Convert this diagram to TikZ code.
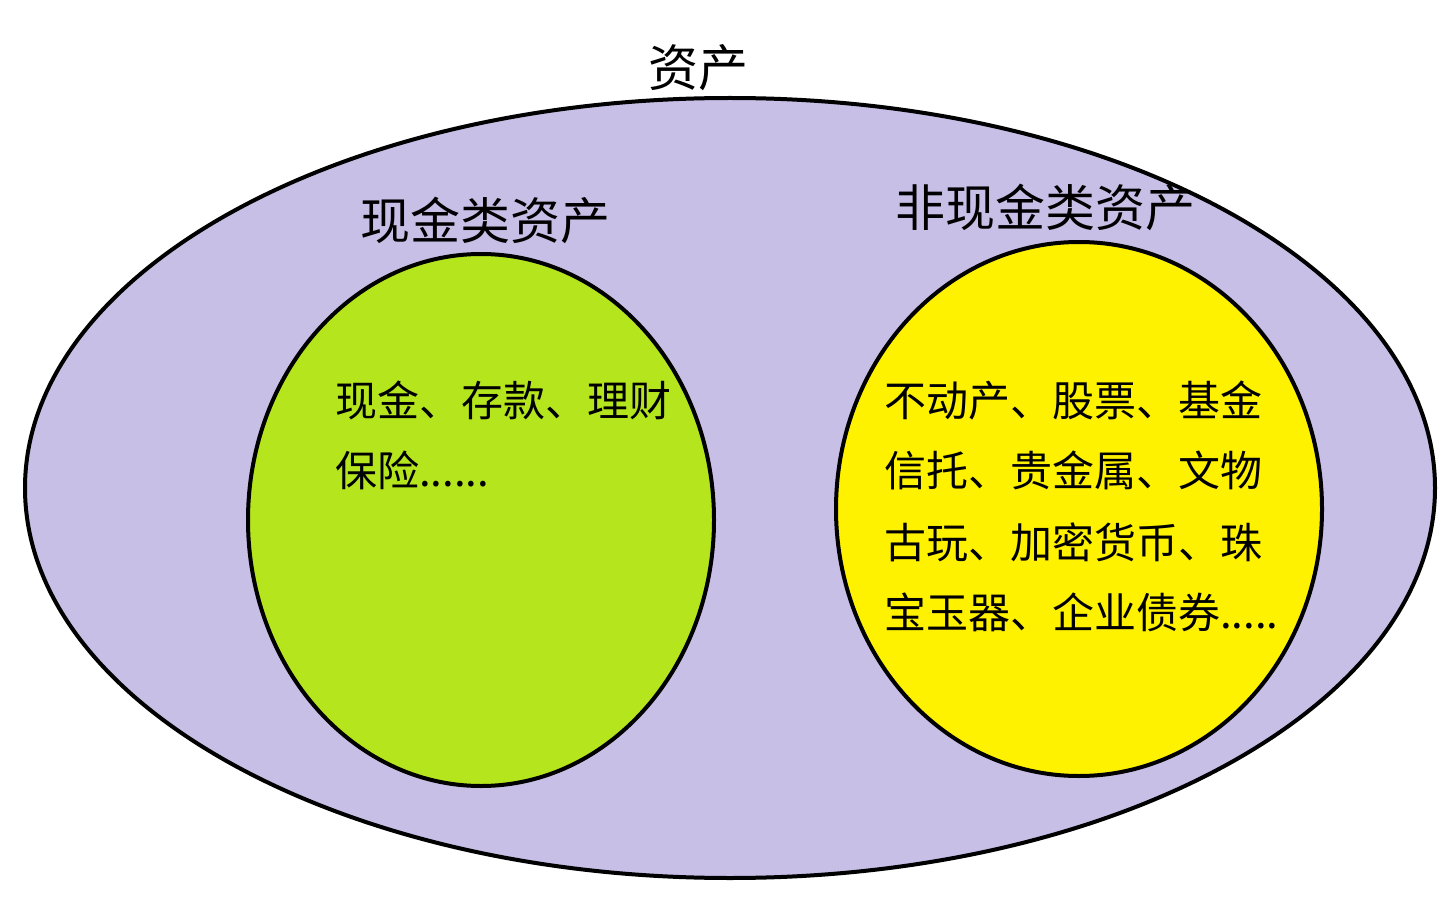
\documentclass[tikz,border=0pt]{standalone}
\usepackage{fontspec}
\setmainfont{Noto Sans CJK SC}
\usepackage{tikz}
\definecolor{lavender}{RGB}{200,191,231}
\definecolor{lime}{RGB}{181,230,29}
\definecolor{paintyellow}{RGB}{255,242,0}
\tikzset{
  set/.style={draw=black, line width=4pt},
  item/.style={anchor=west, inner sep=0pt, font=\fontsize{42}{50}\selectfont},
  title/.style={inner sep=0pt, font=\fontsize{50}{60}\selectfont}
}
\begin{document}
\begin{tikzpicture}[x=1pt,y=-1pt]
        \useasboundingbox (0,0) rectangle (1454,901);
        % Sets
        \draw[set, fill=lavender] (730,488) ellipse [x radius=705, y radius=390];
        \draw[set, fill=lime] (481,520) ellipse [x radius=233, y radius=266];
        \draw[set, fill=paintyellow] (1079,509) ellipse [x radius=243, y radius=267];
        % Titles
        \node[title] (all) at (698,68) {资产};
        \node[title] (cash) at (485,220) {现金类资产};
        \node[title] (noncash) at (1045,207) {非现金类资产};
        % Items in cash set
        \node[item] (c1) at (335,400) {现金、存款、理财};
        \node[item] (c2) at (335,470) {保险......};
        % Items in non-cash set
        \node[item] (n1) at (884,400) {不动产、股票、基金};
        \node[item] (n2) at (884,470) {信托、贵金属、文物};
        \node[item] (n3) at (884,542) {古玩、加密货币、珠};
        \node[item] (n4) at (884,612) {宝玉器、企业债券.....};
    \end{tikzpicture}
\end{document}
